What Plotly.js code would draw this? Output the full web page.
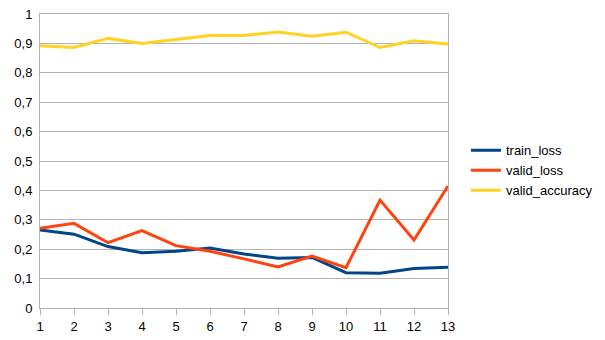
<!DOCTYPE html>
<html>
<head>
<meta charset="utf-8">
<script src="https://cdn.plot.ly/plotly-3.0.1.min.js"></script>
<style>
  html, body { margin: 0; padding: 0; background: #fff; }
  #chart { width: 605px; height: 340px; }
</style>
</head>
<body>
<div id="chart"></div>
<script>
// epochs and metric values
let epochs = [1, 2, 3, 4, 5, 6, 7, 8, 9, 10, 11, 12, 13];
let trainLoss = [0.265, 0.251, 0.209, 0.188, 0.193, 0.204, 0.184, 0.169, 0.172, 0.120, 0.118, 0.134, 0.139];
let validLoss = [0.271, 0.288, 0.222, 0.263, 0.212, 0.193, 0.167, 0.140, 0.177, 0.137, 0.367, 0.231, 0.415];
let validAccuracy = [0.892, 0.886, 0.917, 0.900, 0.913, 0.927, 0.927, 0.939, 0.924, 0.938, 0.886, 0.909, 0.898];

let seriesNames = ["train_loss", "valid_loss", "valid_accuracy"];
let seriesColors = ["#004586", "#ff420e", "#ffd320"];

let traces = [trainLoss, validLoss, validAccuracy].map((vals, i) => ({
  x: epochs,
  y: vals,
  type: "scatter",
  mode: "lines",
  name: seriesNames[i],
  line: { color: seriesColors[i], width: 3 }
}));

let gridColor = "#b3b3b3";

let layout = {
  width: 605,
  height: 340,
  margin: { l: 40, r: 157, t: 14, b: 32, autoexpand: false },
  paper_bgcolor: "#fff",
  plot_bgcolor: "#fff",
  separators: ",.",
  font: { family: "Liberation Sans, Arial, sans-serif", size: 13, color: "#000" },
  showlegend: true,
  legend: {
    x: 1.044,
    xanchor: "left",
    y: 0.468,
    yanchor: "middle",
    font: { size: 13 },
    tracegroupgap: 0
  },
  xaxis: {
    range: [1, 13],
    dtick: 1,
    showgrid: false,
    zeroline: false,
    showline: true,
    mirror: true,
    linecolor: gridColor,
    linewidth: 1,
    ticks: "outside",
    ticklen: 6,
    tickcolor: gridColor
  },
  yaxis: {
    range: [0, 1],
    dtick: 0.1,
    showgrid: true,
    gridcolor: gridColor,
    zeroline: false,
    showline: true,
    mirror: true,
    linecolor: gridColor,
    linewidth: 1,
    ticks: "",
    ticklabelstandoff: 4
  }
};

Plotly.newPlot("chart", traces, layout, { displayModeBar: false, staticPlot: true });
</script>
</body>
</html>
